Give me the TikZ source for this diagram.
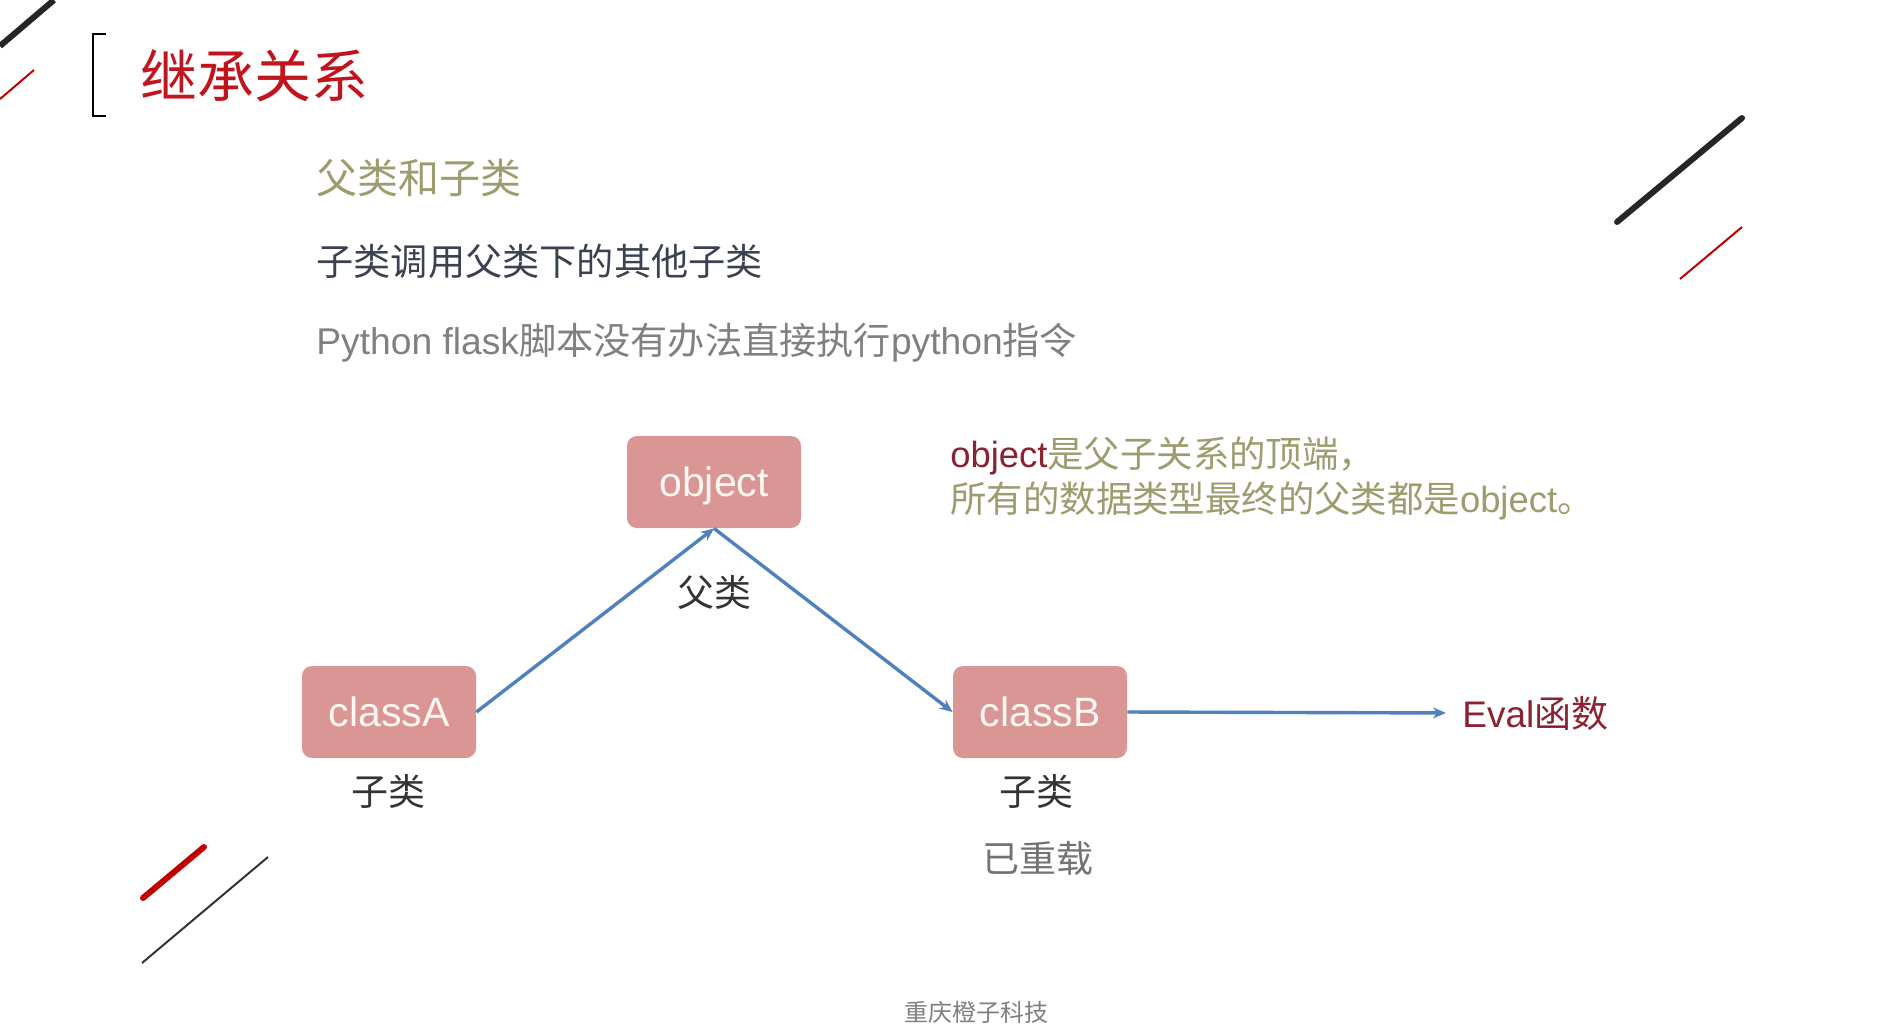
\documentclass[tikz,border=0pt]{standalone}
\usepackage{fontspec}
\setmainfont{Liberation Sans}
\newfontfamily\cjk{Noto Sans CJK SC}
\usetikzlibrary{arrows.meta}
\definecolor{boxfill}{HTML}{D99694}
\definecolor{boxtext}{HTML}{FFF8F2}
\definecolor{titlered}{HTML}{C0141E}
\definecolor{olive}{HTML}{9C9C6E}
\definecolor{slate}{HTML}{3A4150}
\definecolor{midgray}{HTML}{808080}
\definecolor{arrowblue}{HTML}{4F81BD}
\definecolor{darkred}{HTML}{8B2232}
\definecolor{decored}{HTML}{C00000}
\definecolor{labeldark}{HTML}{333333}
\begin{document}
\begin{tikzpicture}[x=0.5pt,y=-0.5pt,
  classbox/.style={fill=boxfill, rounded corners=5pt, minimum width=87pt, minimum height=46pt,
    inner sep=0pt, text height=14.5pt, text depth=0pt, text=boxtext, font=\fontsize{20.5}{24}\selectfont},
  sublabel/.style={text=labeldark, font=\cjk\fontsize{18.5}{22}\selectfont, inner sep=0pt},
  link/.style={draw=arrowblue, line width=1.7pt, -{Stealth[length=6.5pt,width=5.5pt]}},
  body/.style={anchor=west, inner sep=0pt}
]
\useasboundingbox (0,0) rectangle (1894,1029);
\fill[white] (0,0) rectangle (1894,1029);

% decorations
\draw[line width=3pt, black!85] (0,46) -- (54,0);
\draw[line width=1pt, decored] (0,99) -- (34,70);
\draw[line width=3pt, black!85, line cap=round] (1617,222) -- (1742,118);
\draw[line width=1pt, decored] (1680,279) -- (1742,227);
\draw[line width=3pt, decored, line cap=round] (143,898) -- (204,847);
\draw[line width=1pt, black!80] (142,963) -- (268,857);

% bracket and title
\draw[line width=1pt, black] (106,34) -- (93,34) -- (93,116) -- (106,116);
\node[body, text=titlered, font=\cjk\fontsize{28.5}{32}\selectfont] (title) at (140,76) {继承关系};

% body text
\node[body, text=olive, font=\cjk\fontsize{20.5}{24}\selectfont] (t1) at (316,178) {父类和子类};
\node[body, text=slate, font=\cjk\fontsize{18.6}{22}\selectfont] (t2) at (316,261) {子类调用父类下的其他子类};
\node[body, text=midgray, font=\fontsize{18.6}{22}\selectfont] (t3) at (316,343) {Python flask{\cjk 脚本没有办法直接执行}python{\cjk 指令}};

% note
\node[body, text=olive, font=\fontsize{18.2}{22}\selectfont] (n1) at (950,456) {\textcolor{darkred}{object}{\cjk 是父子关系的顶端，}};
\node[body, text=olive, font=\fontsize{18.2}{22}\selectfont] (n2) at (950,501) {{\cjk 所有的数据类型最终的父类都是}object{\cjk 。}};

% boxes
\node[classbox] (obj) at (714,482) {object};
\node[classbox] (ca) at (389,712) {classA};
\node[classbox] (cb) at (1040,712) {classB};

% labels
\node[sublabel] (lobj) at (714,593) {父类};
\node[sublabel] (lca) at (388,791) {子类};
\node[sublabel] (lcb) at (1036,791) {子类};
\node[sublabel, text=midgray!90!black] (lre) at (1038,858) {已重载};
\node[body, text=darkred, font=\fontsize{18.5}{22}\selectfont] (eval) at (1462,713) {Eval{\cjk 函数}};

% arrows
\draw[link] (ca.east) -- (obj.south);
\draw[link] (obj.south) -- (cb.west);
\draw[link, shorten >=8pt] (cb.east) -- (eval.west);

% footer
\node[text=midgray, font=\cjk\fontsize{12}{14}\selectfont, inner sep=0pt] (foot) at (976,1012) {重庆橙子科技};
\end{tikzpicture}
\end{document}
